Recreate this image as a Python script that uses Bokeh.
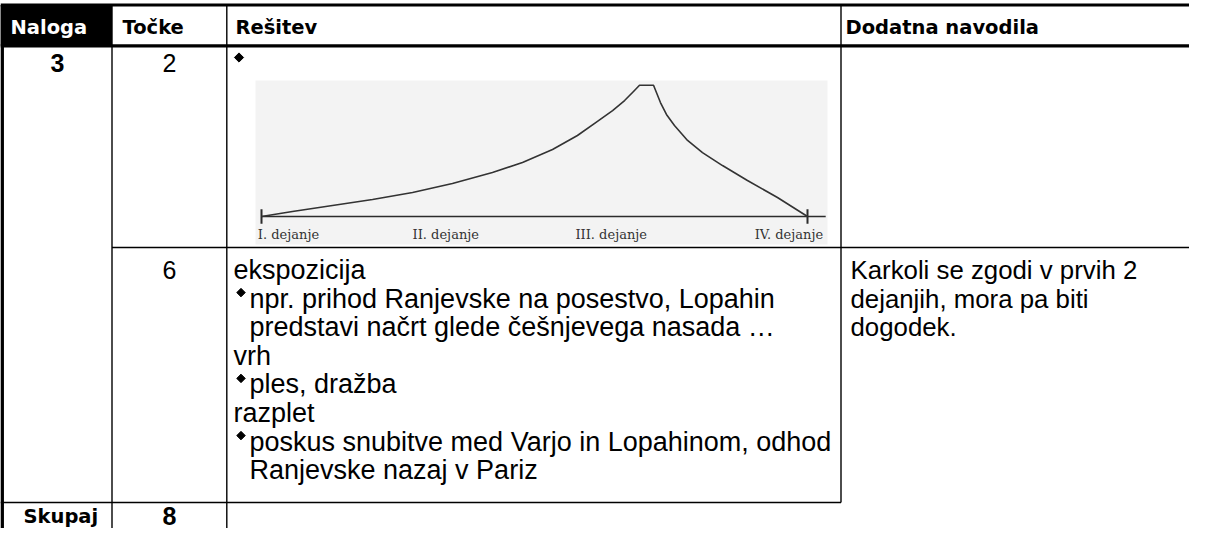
from bokeh.plotting import figure
from bokeh.models import Range1d
from bokeh.core.properties import value
from bokeh.embed import file_html
from bokeh.resources import INLINE
import math

# ---------------- data ----------------
header_labels = ["Naloga", "Točke", "Rešitev", "Dodatna navodila"]
task_number = "3"
row_points = ["2", "6"]
total_label = "Skupaj"
total_points = "8"

# dramatic-structure sketch (x in acts, y in relative tension)
act_labels = ["I. dejanje", "II. dejanje", "III. dejanje", "IV. dejanje"]
act_label_pos = [-0.02, 0.83, 1.725, 2.71]
act_ticks = [0.0, 3.0]
curve_act = [0.0, 0.170, 0.390, 0.610, 0.830, 1.049, 1.269, 1.434, 1.599, 1.736,
             1.846, 1.929, 1.995, 2.044, 2.077, 2.154, 2.170, 2.192, 2.225, 2.269,
             2.341, 2.423, 2.533, 2.670, 2.835, 3.0]
curve_tension = [0.0, 0.038, 0.084, 0.129, 0.183, 0.251, 0.335, 0.411, 0.510, 0.617,
                 0.724, 0.807, 0.883, 0.952, 1.0, 1.0, 0.944, 0.868, 0.777, 0.693,
                 0.579, 0.487, 0.388, 0.274, 0.145, 0.0]
baseline_end = 3.1

solution_lines = [
    "ekspozicija",
    "npr. prihod Ranjevske na posestvo, Lopahin",
    "predstavi načrt glede češnjevega nasada …",
    "vrh",
    "ples, dražba",
    "razplet",
    "poskus snubitve med Varjo in Lopahinom, odhod",
    "Ranjevske nazaj v Pariz",
]
solution_bullet = [False, True, False, False, True, False, True, False]
solution_indent = [False, True, True, False, True, False, True, True]
note_lines = ["Karkoli se zgodi v prvih 2", "dejanjih, mora pa biti", "dogodek."]

# ---------------- layout ----------------
W, H = 1189, 528
SANS = value("Liberation Sans")
HEAD = value("DejaVu Sans")
SERIF = value("DejaVu Serif")

p = figure(width=W, height=H, x_range=Range1d(0, W), y_range=Range1d(H, 0),
           output_backend="svg", toolbar_location=None,
           x_axis_type=None, y_axis_type=None, min_border=0)
p.grid.visible = False
p.outline_line_color = None
p.background_fill_color = "white"
p.border_fill_color = "white"

# chart scales (acts -> pixels, tension -> pixels)
ACT0, ACTW = 261.0, 182.0
BASE, TENS = 216.0, 131.3
p.extra_x_ranges = {"acts": Range1d(-ACT0 / ACTW, (W - ACT0) / ACTW)}
p.extra_y_ranges = {"tension": Range1d((BASE - H) / TENS, BASE / TENS)}

# table column / row edges
c0, c1, c2, c3 = 1.7, 111.5, 226.3, 840.5
top, hbot, r1, r2 = 4.5, 45.3, 247.0, 502.0

# header black cell
p.quad(left=[0], right=[c1], top=[top], bottom=[hbot], fill_color="black", line_color=None)
# thick lines
p.segment(x0=[0, 0], y0=[top, hbot], x1=[W, W], y1=[top, hbot], line_color="black", line_width=3.2)
p.segment(x0=[c0], y0=[top], x1=[c0], y1=[H], line_color="black", line_width=3.5)
# thin lines
p.segment(x0=[c1, c2, c3, c1, 0], y0=[top, top, top, r1, r2],
          x1=[c1, c2, c3, W, c3], y1=[H, H, r2, r1, r2],
          line_color="black", line_width=1.4)

# header texts
p.text(x=[10], y=[27], text=[header_labels[0]], text_font=HEAD, text_font_style="bold",
       text_font_size="19.5px", text_color="white", text_baseline="middle")
p.text(x=[122, 235, 845], y=[27, 27, 27], text=header_labels[1:], text_font=HEAD,
       text_font_style="bold", text_font_size="19.5px", text_color="black", text_baseline="middle")

# row 1
p.text(x=[57], y=[62], text=[task_number], text_font=SANS, text_font_style="bold",
       text_font_size="25px", text_align="center", text_baseline="middle")
p.text(x=[169], y=[62], text=[row_points[0]], text_font=SANS,
       text_font_size="25px", text_align="center", text_baseline="middle")
p.scatter(x=[238.5], y=[57], marker="square", size=6.5, angle=math.pi / 4,
          fill_color="black", line_color="black")

# chart background
p.quad(left=[255], right=[827], top=[80], bottom=[244], fill_color="#f3f3f3", line_color=None)
p.segment(x0=[act_ticks[0]], y0=[0], x1=[baseline_end], y1=[0], x_range_name="acts",
          y_range_name="tension", line_color="#2b2b2b", line_width=1.6)
p.segment(x0=act_ticks, y0=[-0.055] * 2, x1=act_ticks, y1=[0.055] * 2, x_range_name="acts",
          y_range_name="tension", line_color="#2b2b2b", line_width=2)
p.line(curve_act, curve_tension, x_range_name="acts", y_range_name="tension",
       line_color="#333333", line_width=1.6, line_join="round")
p.text(x=act_label_pos, y=[-0.137] * 4, text=act_labels, x_range_name="acts",
       y_range_name="tension", text_font=SERIF, text_font_size="13px",
       text_color="#333333", text_baseline="alphabetic")

# row 2
y0, pitch = 269.5, 28.6
ys = [y0 + pitch * i for i in range(len(solution_lines))]
xs = [249 if ind else 233 for ind in solution_indent]
p.text(x=xs, y=ys, text=solution_lines, text_font=SANS, text_font_size="27px",
       text_baseline="middle")
bx = [240.5 for b in solution_bullet if b]
by = [y - 6 for y, b in zip(ys, solution_bullet) if b]
p.scatter(x=bx, y=by, marker="square", size=6, angle=math.pi / 4,
          fill_color="black", line_color="black")
p.text(x=[169], y=[ys[0]], text=[row_points[1]], text_font=SANS,
       text_font_size="25px", text_align="center", text_baseline="middle")
p.text(x=[850] * 3, y=ys[:3], text=note_lines, text_font=SANS, text_font_size="25.8px",
       text_baseline="middle")

# total row
p.text(x=[23], y=[516], text=[total_label], text_font=HEAD, text_font_style="bold",
       text_font_size="19.5px", text_baseline="middle")
p.text(x=[169], y=[515], text=[total_points], text_font=SANS, text_font_style="bold",
       text_font_size="25px", text_align="center", text_baseline="middle")

open("out.html", "w").write(file_html(p, INLINE))
